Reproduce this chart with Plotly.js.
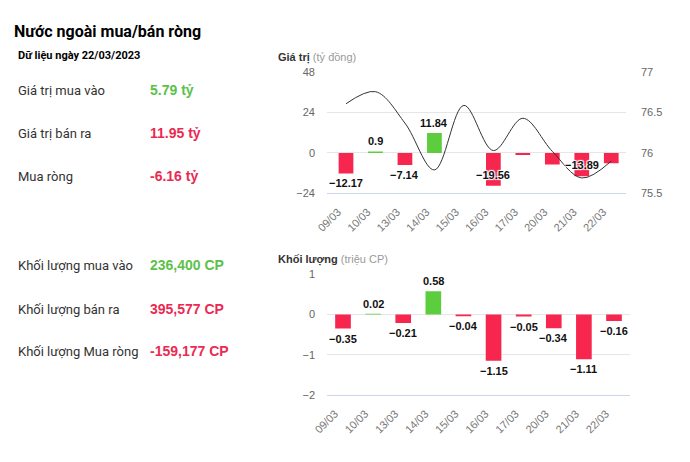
<!DOCTYPE html>
<html>
<head>
<meta charset="utf-8">
<script src="https://cdn.plot.ly/plotly-3.0.1.min.js"></script>
<style>
html,body{margin:0;padding:0;background:#fff;}
#chart{width:690px;height:462px;}
</style>
</head>
<body>
<div id="chart"></div>
<script>
// ---- data ----
const dates = ["09/03","10/03","13/03","14/03","15/03","16/03","17/03","20/03","21/03","22/03"];
const netValue = [-12.17, 0.9, -7.14, 11.84, -0.05, -19.56, -1.2, -6.9, -13.89, -6.16];
const price = [76.61, 76.76, 76.37, 75.79, 76.59, 76.03, 76.43, 76.02, 75.69, 75.9];
const netVolume = [-0.35, 0.02, -0.21, 0.58, -0.04, -1.15, -0.05, -0.34, -1.11, -0.16];
const valueLabelMode = ["below","above","below","above","none","inside","none","none","inside","none"];

const summaryLabels = ["Giá trị mua vào","Giá trị bán ra","Mua ròng","Khối lượng mua vào","Khối lượng bán ra","Khối lượng Mua ròng"];
const summaryValues = ["5.79 tỷ","11.95 tỷ","-6.16 tỷ","236,400 CP","395,577 CP","-159,177 CP"];
const summaryPositive = [true,false,false,true,false,false];

// ---- styles ----
const RED = "#f7264f", GREEN = "#5ccd3c";
const TXT_GREEN = "#5cc14a", TXT_RED = "#ea2a52";
const W = 690, H = 462;
const px = v => v / W;
const py = v => 1 - v / H;
const fmt = v => (v < 0 ? "\u2212" + Math.abs(v) : String(v));
const outline = "1px 1px 1px #fff, -1px -1px 1px #fff, 1px -1px 1px #fff, -1px 1px 1px #fff";

const traces = [
  {type:"bar", x:dates, y:netValue, xaxis:"x", yaxis:"y",
   marker:{color:netValue.map(v=>v>=0?GREEN:RED)}, width:0.5, hoverinfo:"none"},
  {type:"scatter", mode:"lines", x:dates, y:price, xaxis:"x", yaxis:"y3",
   line:{color:"#333", width:1, shape:"spline", smoothing:1}, hoverinfo:"none"},
  {type:"bar", x:dates, y:netVolume, xaxis:"x2", yaxis:"y2",
   marker:{color:netVolume.map(v=>v>=0?GREEN:RED)}, width:0.52, hoverinfo:"none"}
];

const annotations = [];
function txt(x, y, text, font){
  annotations.push({xref:"paper", yref:"paper", x:px(x-2), y:py(y), text:text,
    showarrow:false, xanchor:"left", yanchor:"middle", font:font});
}
txt(14, 32, "<b>Nước ngoài mua/bán ròng</b>", {family:"Roboto, Arial", size:16, color:"#000", weight:700});
txt(18, 55, "<b>Dữ liệu ngày 22/03/2023</b>", {family:"Roboto, Arial", size:11, color:"#000", weight:700});
const rowY = [90.5, 133.5, 176.5, 265.5, 309, 351.5];
summaryLabels.forEach((l,i)=>{
  txt(18, rowY[i], l, {family:"Roboto, Arial", size:13, color:"#333"});
  txt(150, rowY[i]-0.5, "<b>"+summaryValues[i]+"</b>", {family:"Liberation Sans, Arial", size:14, color:summaryPositive[i]?TXT_GREEN:TXT_RED, weight:700});
});
txt(278, 58, "<b>Giá trị</b> <span style='color:#999'>(tỷ đồng)</span>", {family:"Liberation Sans, Arial", size:11, color:"#333"});
txt(278, 259.5, "<b>Khối lượng</b> <span style='color:#999'>(triệu CP)</span>", {family:"Liberation Sans, Arial", size:11, color:"#333"});

const lblFont = {family:"Liberation Sans, Arial", size:11, color:"#111", weight:700, shadow:outline};
netValue.forEach((v,i)=>{
  const m = valueLabelMode[i];
  if (m === "none") return;
  const a = {xref:"x", yref:"y", x:dates[i], y:v, text:"<b>"+fmt(v)+"</b>", showarrow:false,
    xanchor:"center", font:lblFont};
  if (m === "above"){ a.yanchor="bottom"; a.yshift=2; }
  else if (m === "below"){ a.yanchor="top"; a.yshift=-2; }
  else { a.yanchor="bottom"; a.yshift=3; }
  annotations.push(a);
});
netVolume.forEach((v,i)=>{
  annotations.push({xref:"x2", yref:"y2", x:dates[i], y:v, text:"<b>"+fmt(v)+"</b>", showarrow:false,
    xanchor:"center", yanchor:v>=0?"bottom":"top", yshift:v>=0?2:-2, font:lblFont});
});

const tickFont = {family:"Liberation Sans, Arial", size:11, color:"#666"};
const xCommon = {type:"category", tickangle:-45, tickfont:{family:"Liberation Sans, Arial", size:11, color:"#777"},
  showgrid:false, showline:true, linecolor:"#ccd6eb", linewidth:1, ticks:"", fixedrange:true,
  zeroline:false, ticklabelstandoff:7, ticklabelshift:-8};
const yCommon = {showgrid:true, gridcolor:"#e6e6e6", gridwidth:1, zeroline:false, showline:false,
  tickfont:tickFont, ticks:"", ticklabelstandoff:11, fixedrange:true};

const layout = {
  width:W, height:H, margin:{l:0,r:0,t:0,b:0}, paper_bgcolor:"#fff", plot_bgcolor:"#fff",
  showlegend:false, bargap:0.5, hovermode:false,
  xaxis: Object.assign({}, xCommon, {domain:[px(327), px(626)], anchor:"y"}),
  yaxis: Object.assign({}, yCommon, {domain:[py(193.3), py(72.3)], range:[-24,48], tickvals:[-24,0,24,48], anchor:"x"}),
  yaxis3: {overlaying:"y", side:"right", range:[75.5,77], tickvals:[75.5,76,76.5,77], ticktext:["75.5","76","76.5","77"],
    showgrid:false, zeroline:false, showline:false, tickfont:tickFont, ticks:"", ticklabelstandoff:14, fixedrange:true, anchor:"x"},
  xaxis2: Object.assign({}, xCommon, {domain:[px(327), px(630)], anchor:"y2"}),
  yaxis2: Object.assign({}, yCommon, {domain:[py(395), py(274.3)], range:[-2,1], tickvals:[-2,-1,0,1], anchor:"x2"}),
  annotations: annotations
};

Plotly.newPlot("chart", traces, layout, {displayModeBar:false, staticPlot:true});
</script>
</body>
</html>
